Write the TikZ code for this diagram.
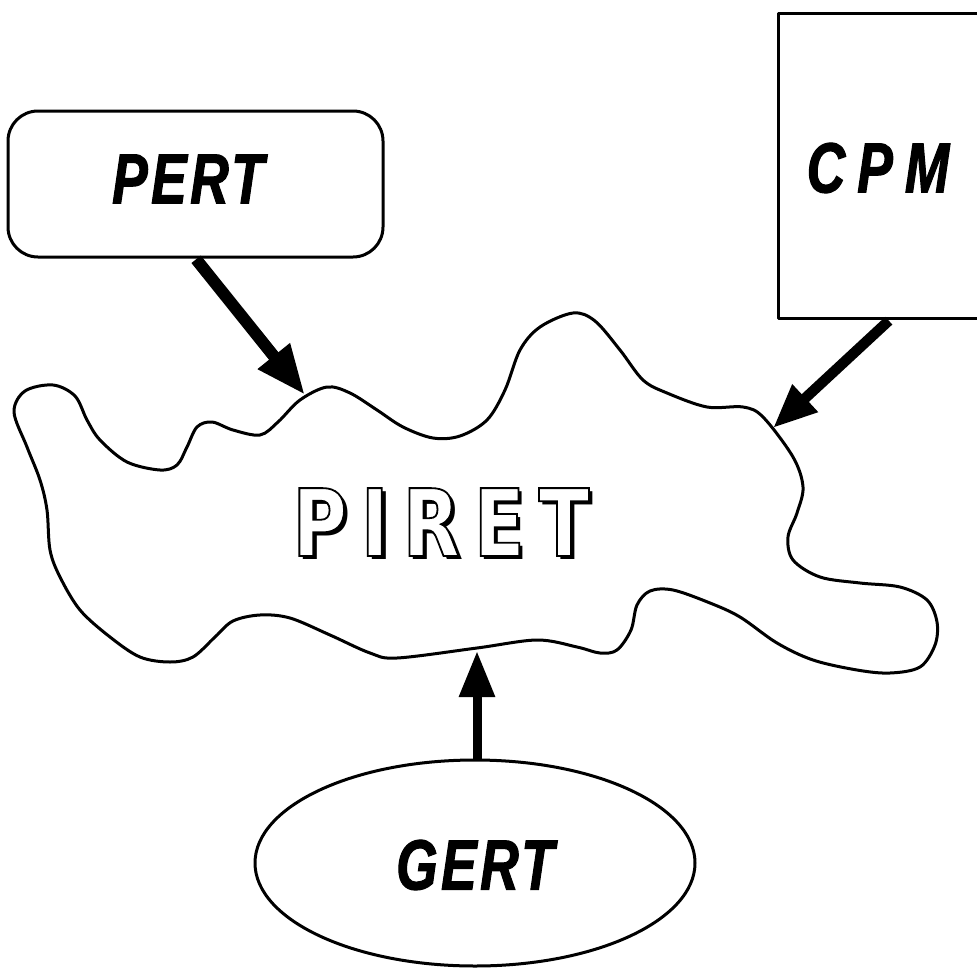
\documentclass[tikz,border=0pt]{standalone}
\usepackage{fontspec}
\setmainfont{Liberation Sans}
\usetikzlibrary{arrows.meta}
\newfontfamily\labelfont[FakeStretch=0.75,LetterSpace=5,FakeBold=1.5]{Liberation Sans}
\newfontfamily\piretfont[FakeStretch=0.80,LetterSpace=15]{DejaVu Sans}
\newcommand{\outlinedtext}[1]{\special{pdf:literal direct 2 Tr 1.8 w 0 0 0 RG 1 1 1 rg}#1\special{pdf:literal direct 0 Tr 0 0 0 rg 0 0 0 RG}}
\tikzset{
  outline/.style={line width=3pt, line join=round},
  boxlabel/.style={font=\labelfont\bfseries\itshape\fontsize{71}{71}\selectfont, inner sep=0pt},
  bigarrow/.style={line width=12pt, -{Triangle[length=50pt,width=38pt]}, shorten <=1pt},
  piretstyle/.style={font=\piretfont\bfseries\fontsize{93}{93}\selectfont, inner sep=0pt}
}
\begin{document}
\begin{tikzpicture}[x=1pt,y=-1pt]
\useasboundingbox (0,0) rectangle (977,969);
% PERT rounded box
\node[outline, draw, rounded corners=30pt, minimum width=375pt, minimum height=146pt] (pert) at (195.5,184) {};
\node[boxlabel] (pertlbl) at (188,179) {PERT};
% CPM box (runs off the right edge)
\node[outline, draw, minimum width=216pt, minimum height=305pt, anchor=north west] (cpm) at (777,12) {};
\node[boxlabel] (cpmlbl) at (878,168) {\addfontfeature{LetterSpace=17}CPM};
% GERT ellipse
\draw[outline] (475,863) ellipse [x radius=220, y radius=103];
\coordinate (gerttop) at (477,761);
\node[boxlabel] (gertlbl) at (475,865) {GERT};
% PIRET blob
\draw[outline] plot[smooth cycle, tension=0.55] coordinates {
(53,385) (75,396) (87,420) (100,440) (127,462) (160,470) (177,465) (187,447) (197,427) (212,422) (233,430) (260,435) (278,422) (300,400) (327,387) (350,393) (377,410) (403,427) (433,438) (460,436) (487,420) (505,390) (520,350) (540,327) (573,313) (595,321) (620,350) (643,380) (667,393) (707,407) (743,407) (763,417) (793,457) (803,487) (797,513) (788,537) (793,560) (820,577) (860,583) (900,587) (927,600) (937,622) (935,645) (920,667) (890,673) (857,670) (813,660) (777,643) (740,617) (710,603) (673,590) (650,591) (637,605) (631,630) (617,650) (600,653) (577,647) (537,640) (477,648) (397,658) (370,653) (330,635) (290,618) (260,615) (233,621) (215,637) (193,657) (170,662) (140,657) (110,637) (80,610) (60,577) (50,550) (47,510) (40,480) (27,447) (14,412) (25,391)
};
\coordinate (tipP) at (305,395);
\coordinate (tipC) at (773,428);
\coordinate (tipG) at (477,651);
% PIRET title with shadow
\node[piretstyle, text=black] (piretshadow) at (445,526) {PIRET};
\node[piretstyle] (piret) at (441,522) {\outlinedtext{PIRET}};
% arrows
\draw[bigarrow] (pert.south) -- (tipP);
\draw[bigarrow, line width=10.5pt, -{Triangle[length=44pt,width=35pt]}] ([xshift=3pt]cpm.south) -- (tipC);
\draw[bigarrow, line width=9pt, -{Triangle[length=46pt,width=34pt]}] (gerttop) -- (tipG);
\end{tikzpicture}
\end{document}
